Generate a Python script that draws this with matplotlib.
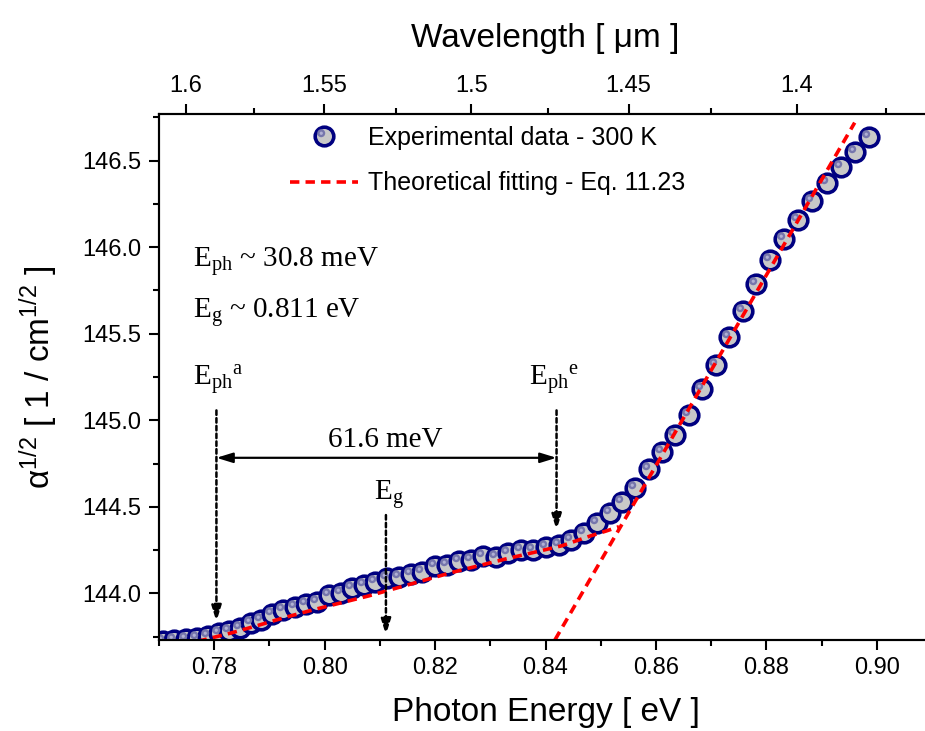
import matplotlib
matplotlib.use('Agg')
import matplotlib.pyplot as plt
from matplotlib.path import Path
from matplotlib.markers import MarkerStyle
from matplotlib.lines import Line2D
from matplotlib.legend_handler import HandlerTuple
from matplotlib.ticker import MultipleLocator, FormatStrFormatter, FixedLocator

plt.rcParams['font.family'] = ['Liberation Sans', 'DejaVu Sans']
plt.rcParams['mathtext.fontset'] = 'custom'
plt.rcParams['mathtext.rm'] = 'Liberation Sans'
plt.rcParams['mathtext.it'] = 'Liberation Sans:italic'
plt.rcParams['mathtext.bf'] = 'Liberation Sans:bold'

# ---------------- data ----------------
energy = [0.7707, 0.7728, 0.7749, 0.7769, 0.7789, 0.7808, 0.7827, 0.7846, 0.7866, 0.7885,
          0.7905, 0.7925, 0.7946, 0.7966, 0.7987, 0.8008, 0.8029, 0.8050, 0.8071, 0.8092,
          0.8113, 0.8134, 0.8156, 0.8177, 0.8199, 0.8221, 0.8243, 0.8265, 0.8287, 0.8310,
          0.8332, 0.8355, 0.8378, 0.8401, 0.8424, 0.8447, 0.8470, 0.8493, 0.8516, 0.8539,
          0.8563, 0.8587, 0.8611, 0.8635, 0.8659, 0.8684, 0.8708, 0.8733, 0.8757, 0.8782,
          0.8807, 0.8832, 0.8858, 0.8883, 0.8909, 0.8935, 0.8961, 0.8986]
alpha_sqrt = [143.726, 143.730, 143.734, 143.741, 143.753, 143.768, 143.784, 143.801, 143.826, 143.846,
              143.878, 143.902, 143.918, 143.940, 143.952, 143.988, 144.003, 144.028, 144.048, 144.067,
              144.086, 144.096, 144.113, 144.125, 144.157, 144.163, 144.187, 144.192, 144.214, 144.211,
              144.230, 144.248, 144.250, 144.265, 144.280, 144.308, 144.346, 144.404, 144.465, 144.530,
              144.606, 144.716, 144.814, 144.914, 145.031, 145.178, 145.320, 145.482, 145.630, 145.786,
              145.928, 146.046, 146.159, 146.267, 146.371, 146.463, 146.550, 146.636]

fit_low_energy = [0.7770, 0.7780, 0.7830, 0.7880, 0.7930, 0.7980, 0.8030, 0.8080, 0.8130,
                  0.8180, 0.8230, 0.8280, 0.8330, 0.8380, 0.8430, 0.8480, 0.8510, 0.8533]
fit_low_alpha = [143.722, 143.730, 143.770, 143.815, 143.862, 143.905, 143.945, 143.985, 144.030,
                 144.075, 144.120, 144.160, 144.200, 144.237, 144.275, 144.330, 144.360, 144.385]
fit_steep_energy = [0.8417, 0.8960]
fit_steep_alpha = [143.730, 146.720]

wl_major = [1.6, 1.55, 1.5, 1.45, 1.4]
wl_major_labels = ['1.6', '1.55', '1.5', '1.45', '1.4']
wl_minor = [1.575, 1.525, 1.475, 1.425, 1.375]
HC = 1.2398  # eV*um

E_ph_a = 0.7804
E_ph_e = 0.8420
E_g = 0.8111

# ---------------- figure ----------------
fig = plt.figure(figsize=(9.25, 7.31), dpi=100)
ax = fig.add_axes([159 / 925, 91 / 731, 773 / 925, 526 / 731])
ax.set_xlim(0.77, 0.91)
ax.set_ylim(143.73, 146.77)

# highlight marker shapes (3D ball look), offset to the upper left
hl_path1 = Path.circle(center=(-1.0, 1.0), radius=1.22)
hl_path2 = Path.circle(center=(-1.0, 1.0), radius=0.5)

mk = dict(linestyle='none', marker='o', ms=13.4, mfc='#c8c8c8', mec='#000080', mew=2.6)
hk1 = dict(linestyle='none', marker=MarkerStyle(hl_path1), ms=10.5, mfc='#7676ac', mec='none', mew=0)
hk2 = dict(linestyle='none', marker=MarkerStyle(hl_path2), ms=7.0, mfc='#b0b0d4', mec='none', mew=0)

ax.plot(energy, alpha_sqrt, zorder=3, **mk)
ax.plot(energy, alpha_sqrt, zorder=4, **hk1)
ax.plot(energy, alpha_sqrt, zorder=5, **hk2)

fit_style = dict(color='#ff0000', lw=2.6, linestyle=(0, (2.6, 1.7)))
ax.plot(fit_low_energy, fit_low_alpha, zorder=6, **fit_style)
ax.plot(fit_steep_energy, fit_steep_alpha, zorder=6, **fit_style)

# ---------------- axes styling ----------------
for s in ax.spines.values():
    s.set_linewidth(1.5)
ax.xaxis.set_major_locator(MultipleLocator(0.02))
ax.xaxis.set_minor_locator(MultipleLocator(0.01))
ax.xaxis.set_major_formatter(FormatStrFormatter('%.2f'))
ax.yaxis.set_major_locator(MultipleLocator(0.5))
ax.yaxis.set_minor_locator(MultipleLocator(0.25))
ax.yaxis.set_major_formatter(FormatStrFormatter('%.1f'))
ax.tick_params(which='major', direction='out', length=7.5, width=1.5, labelsize=17,
               top=False, right=False, pad=5)
ax.tick_params(which='minor', direction='out', length=4, width=1.5, top=False, right=False)

ax.set_xlabel('Photon Energy [ eV ]', fontsize=24, labelpad=13)
ax.set_ylabel(r'α$^{1/2}$ [ 1 / cm$^{1/2}$ ]', fontsize=24, labelpad=16)

ax2 = ax.twiny()
ax2.set_xlim(ax.get_xlim())
ax2.xaxis.set_major_locator(FixedLocator([HC / w for w in wl_major]))
ax2.xaxis.set_minor_locator(FixedLocator([HC / w for w in wl_minor]))
ax2.set_xticklabels(wl_major_labels)
ax2.tick_params(which='major', direction='out', length=7.5, width=1.5, labelsize=17, pad=5)
ax2.tick_params(which='minor', direction='out', length=4, width=1.5)
ax2.set_xlabel('Wavelength [ μm ]', fontsize=24, labelpad=20)
for s in ax2.spines.values():
    s.set_linewidth(1.5)

# ---------------- legend ----------------
h_data = (Line2D([], [], **mk), Line2D([], [], **hk1), Line2D([], [], **hk2))
h_fit = Line2D([], [], **fit_style)
leg = ax.legend([h_data, h_fit],
                ['Experimental data - 300 K', 'Theoretical fitting - Eq. 11.23'],
                handler_map={tuple: HandlerTuple(ndivide=1)},
                loc='upper left', bbox_to_anchor=(290 / 925, 1 - 126 / 731),
                bbox_transform=fig.transFigure, frameon=False, fontsize=18,
                handlelength=2.7, handletextpad=0.4, borderpad=0, borderaxespad=0,
                labelspacing=0.85, numpoints=1)

# ---------------- annotations ----------------
serif = dict(family=['Liberation Serif', 'DejaVu Serif'], fontsize=21, color='black')
ax.text(0.7761, 145.886, r'$\mathregular{E_{ph}}$ ~ 30.8 meV', **serif)
ax.text(0.7761, 145.594, r'$\mathregular{E_{g}}$ ~ 0.811 eV', **serif)
ax.text(0.7761, 145.203, r'$\mathregular{E_{ph}{}^{a}}$', **serif)
ax.text(0.8371, 145.203, r'$\mathregular{E_{ph}{}^{e}}$', **serif)
ax.text(0.8109, 144.846, '61.6 meV', ha='center', **serif)
ax.text(0.8089, 144.539, r'$\mathregular{E_{g}}$', **serif)

dash_arrow = dict(arrowstyle='-|>,head_length=0.65,head_width=0.2', color='black', lw=1.8,
                  linestyle=(0, (1.8, 1.3)), shrinkA=0, shrinkB=0, mutation_scale=15)
ax.annotate('', xy=(E_ph_a, 143.836), xytext=(E_ph_a, 145.057), arrowprops=dash_arrow, zorder=8)
ax.annotate('', xy=(E_ph_e, 144.365), xytext=(E_ph_e, 145.057), arrowprops=dash_arrow, zorder=8)
ax.annotate('', xy=(E_g, 143.759), xytext=(E_g, 144.452), arrowprops=dash_arrow, zorder=8)
ax.annotate('', xy=(E_ph_e, 144.783), xytext=(E_ph_a, 144.783),
            arrowprops=dict(arrowstyle='<|-|>,head_length=0.65,head_width=0.2', color='black',
                            lw=1.6, shrinkA=0, shrinkB=0, mutation_scale=15), zorder=8)

fig.savefig('out.png', dpi=100)
